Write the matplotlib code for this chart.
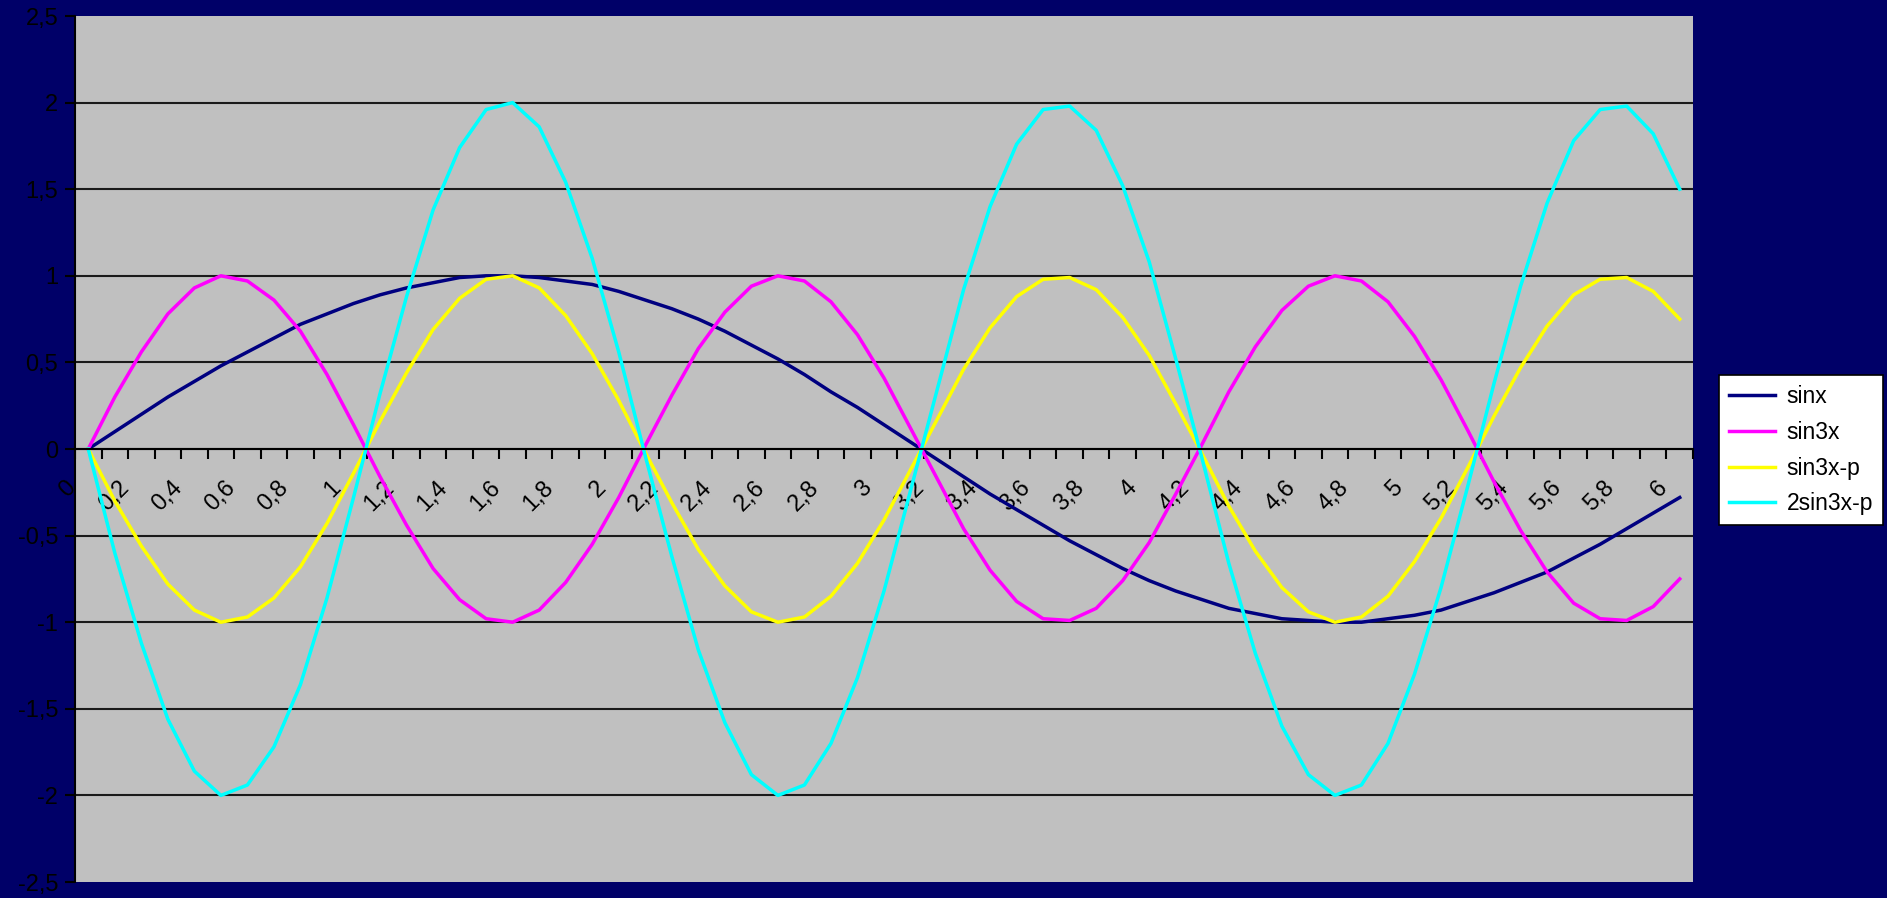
import numpy as np
import matplotlib.pyplot as plt
from matplotlib.transforms import ScaledTranslation

plt.rcParams['font.family'] = ['Liberation Sans', 'DejaVu Sans']

# datos (x de 0 a 6 cada 0.1)
x = [0.0, 0.1, 0.2, 0.3, 0.4, 0.5, 0.6, 0.7, 0.8, 0.9,
     1.0, 1.1, 1.2, 1.3, 1.4, 1.5, 1.6, 1.7, 1.8, 1.9,
     2.0, 2.1, 2.2, 2.3, 2.4, 2.5, 2.6, 2.7, 2.8, 2.9,
     3.0, 3.1, 3.2, 3.3, 3.4, 3.5, 3.6, 3.7, 3.8, 3.9,
     4.0, 4.1, 4.2, 4.3, 4.4, 4.5, 4.6, 4.7, 4.8, 4.9,
     5.0, 5.1, 5.2, 5.3, 5.4, 5.5, 5.6, 5.7, 5.8, 5.9, 6.0]

sinx = [0.00, 0.10, 0.20, 0.30, 0.39, 0.48, 0.56, 0.64, 0.72, 0.78,
        0.84, 0.89, 0.93, 0.96, 0.99, 1.00, 1.00, 0.99, 0.97, 0.95,
        0.91, 0.86, 0.81, 0.75, 0.68, 0.60, 0.52, 0.43, 0.33, 0.24,
        0.14, 0.04, -0.06, -0.16, -0.26, -0.35, -0.44, -0.53, -0.61, -0.69,
        -0.76, -0.82, -0.87, -0.92, -0.95, -0.98, -0.99, -1.00, -1.00, -0.98,
        -0.96, -0.93, -0.88, -0.83, -0.77, -0.71, -0.63, -0.55, -0.46, -0.37, -0.28]

sin3x = [0.00, 0.30, 0.56, 0.78, 0.93, 1.00, 0.97, 0.86, 0.68, 0.43,
         0.14, -0.16, -0.44, -0.69, -0.87, -0.98, -1.00, -0.93, -0.77, -0.55,
         -0.28, 0.02, 0.31, 0.58, 0.79, 0.94, 1.00, 0.97, 0.85, 0.66,
         0.41, 0.12, -0.17, -0.46, -0.70, -0.88, -0.98, -0.99, -0.92, -0.76,
         -0.54, -0.26, 0.03, 0.33, 0.59, 0.80, 0.94, 1.00, 0.97, 0.85,
         0.65, 0.40, 0.11, -0.19, -0.47, -0.71, -0.89, -0.98, -0.99, -0.91, -0.75]

sin3x_p = [0.00, -0.30, -0.56, -0.78, -0.93, -1.00, -0.97, -0.86, -0.68, -0.43,
           -0.14, 0.16, 0.44, 0.69, 0.87, 0.98, 1.00, 0.93, 0.77, 0.55,
           0.28, -0.02, -0.31, -0.58, -0.79, -0.94, -1.00, -0.97, -0.85, -0.66,
           -0.41, -0.12, 0.17, 0.46, 0.70, 0.88, 0.98, 0.99, 0.92, 0.76,
           0.54, 0.26, -0.03, -0.33, -0.59, -0.80, -0.94, -1.00, -0.97, -0.85,
           -0.65, -0.40, -0.11, 0.19, 0.47, 0.71, 0.89, 0.98, 0.99, 0.91, 0.75]

dos_sin3x_p = [0.00, -0.60, -1.12, -1.56, -1.86, -2.00, -1.94, -1.72, -1.36, -0.86,
               -0.28, 0.32, 0.88, 1.38, 1.74, 1.96, 2.00, 1.86, 1.54, 1.10,
               0.56, -0.04, -0.62, -1.16, -1.58, -1.88, -2.00, -1.94, -1.70, -1.32,
               -0.82, -0.24, 0.34, 0.92, 1.40, 1.76, 1.96, 1.98, 1.84, 1.52,
               1.08, 0.52, -0.06, -0.66, -1.18, -1.60, -1.88, -2.00, -1.94, -1.70,
               -1.30, -0.80, -0.22, 0.38, 0.94, 1.42, 1.78, 1.96, 1.98, 1.82, 1.50]

series_nombres = ['sinx', 'sin3x', 'sin3x-p', '2sin3x-p']
colores = ['#000080', '#FF00FF', '#FFFF00', '#00FFFF']

etiquetas_x = ['0', '0,2', '0,4', '0,6', '0,8', '1', '1,2', '1,4', '1,6', '1,8',
               '2', '2,2', '2,4', '2,6', '2,8', '3', '3,2', '3,4', '3,6', '3,8',
               '4', '4,2', '4,4', '4,6', '4,8', '5', '5,2', '5,4', '5,6', '5,8', '6']
valores_y = [-2.5, -2, -1.5, -1, -0.5, 0, 0.5, 1, 1.5, 2, 2.5]
etiquetas_y = ['-2,5', '-2', '-1,5', '-1', '-0,5', '0', '0,5', '1', '1,5', '2', '2,5']

pos = np.arange(len(x))  # posicion de cada categoria

fig = plt.figure(figsize=(18.87, 8.98), dpi=100, facecolor='#000068')
ax = fig.add_axes([75/1887, 16/898, (1693-75)/1887, (882-16)/898])
ax.set_facecolor('#C0C0C0')

for datos, nombre, c in zip([sinx, sin3x, sin3x_p, dos_sin3x_p], series_nombres, colores):
    ax.plot(pos, datos, color=c, lw=2.5, label=nombre, solid_joinstyle='round')

ax.set_xlim(-0.5, len(x) - 0.5)
ax.set_ylim(-2.5, 2.5)

# eje y
ax.set_yticks(valores_y)
ax.set_yticklabels(etiquetas_y, fontsize=17, color='black')
ax.tick_params(axis='y', direction='out', length=7, width=1.5, color='black', pad=5)
ax.yaxis.grid(True, color='#1a1a1a', lw=1.5)
ax.set_axisbelow(True)
lineas = ax.get_ygridlines()
lineas[0].set_visible(False)
lineas[-1].set_visible(False)

# eje x cruzando en y=0
ax.spines['bottom'].set_position(('data', 0))
ax.spines['bottom'].set_linewidth(1.5)
ax.spines['left'].set_linewidth(1.5)
ax.spines['top'].set_visible(False)
ax.spines['right'].set_visible(False)

ax.set_xticks(pos[::2])
ax.set_xticklabels(etiquetas_x, fontsize=17, rotation=45, ha='right', va='top')
ax.set_xticks(np.arange(len(x) + 1) - 0.5, minor=True)
ax.tick_params(axis='x', which='major', length=0, pad=20)
ax.tick_params(axis='x', which='minor', direction='out', length=7, width=1.5, color='black')
desp = ScaledTranslation(-8/100, 0, fig.dpi_scale_trans)
for lbl in ax.get_xticklabels():
    lbl.set_transform(lbl.get_transform() + desp)

# leyenda
leg = fig.legend(loc='upper left', bbox_to_anchor=(1719/1887, 1 - 375/898),
                 fontsize=16.5, frameon=True, fancybox=False, edgecolor='black',
                 facecolor='white', framealpha=1, handlelength=2.0,
                 borderaxespad=0, labelspacing=0.55, borderpad=0.45, handletextpad=0.5)
leg.get_frame().set_linewidth(1.2)

plt.savefig('out.png', dpi=100, facecolor=fig.get_facecolor())
